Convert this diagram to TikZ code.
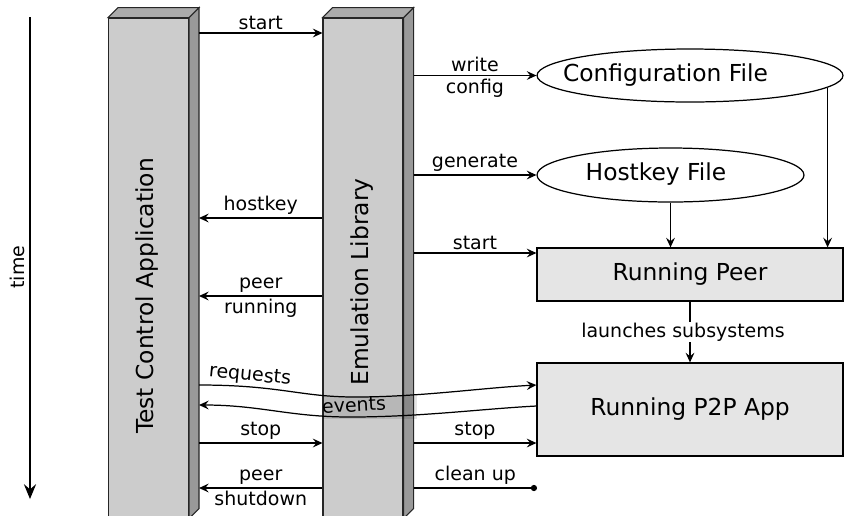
\documentclass[tikz,border=0pt]{standalone}
\usepackage{fontspec}
\setmainfont{DejaVu Sans}
\usetikzlibrary{arrows.meta,shapes.geometric}

\tikzset{
  colface/.style={draw=black!85, fill=black!20, line width=0.6pt, inner sep=0pt,
                  minimum width=1.6cm, minimum height=10cm},
  sideface/.style={draw=black!85, fill=black!40, line width=0.6pt},
  topface/.style={draw=black!85, fill=black!33, line width=0.6pt},
  msg/.style={-{Stealth[length=5.5pt,width=5pt,inset=2pt]}, line width=0.7pt},
  lbl/.style={font=\fontsize{10.8}{12}\selectfont, inner sep=1.5pt},
  big/.style={font=\fontsize{13.3}{15}\selectfont},
  file/.style={ellipse, draw, line width=0.7pt, inner sep=0pt},
  proc/.style={rectangle, draw, fill=black!10, line width=0.7pt, inner sep=0pt, big},
}

\begin{document}
\begin{tikzpicture}[x=0.02cm, y=-0.02cm]
\useasboundingbox (0,0) rectangle (844,515);

% time axis
\coordinate (t0) at (30,17);
\coordinate (t1) at (30,499);
\draw[-{Stealth[length=8.5pt,width=7pt,inset=3pt]}, line width=0.7pt] (t0) -- (t1);
\node[lbl, rotate=90] (time) at (17,267) {time};

% test control application
\node[colface] (tca) at (148.5,268) {};
\draw[sideface] (tca.north east) -- ++(10,-10) -- ([shift={(10,-10)}]tca.south east) -- (tca.south east) -- cycle;
\draw[topface] (tca.north west) -- ++(10,-10) -- ([shift={(10,-10)}]tca.north east) -- (tca.north east) -- cycle;
\coordinate (tcaside) at ([shift={(10,0)}]tca.east);
\node[big, rotate=90] (tcalabel) at (147,296) {Test Control Application};

% emulation library
\node[colface] (emu) at (363,268) {};
\draw[sideface] (emu.north east) -- ++(10,-10) -- ([shift={(10,-10)}]emu.south east) -- (emu.south east) -- cycle;
\draw[topface] (emu.north west) -- ++(10,-10) -- ([shift={(10,-10)}]emu.north east) -- (emu.north east) -- cycle;
\coordinate (emuside) at ([shift={(10,0)}]emu.east);
\node[big, rotate=90] (emulabel) at (362,282) {Emulation Library};

% files and processes
\node[file, minimum width=6.12cm, minimum height=1.06cm] (cfg) at (690,75.5) {};
\node[big] (cfglabel) at (665.5,75) {Configuration File};
\node[file, minimum width=5.34cm, minimum height=1.08cm] (hk) at (670.5,175) {};
\node[big] (hklabel) at (656,174) {Hostkey File};
\node[proc, minimum width=6.12cm, minimum height=1.06cm] (peer) at (690,274.5) {Running Peer};
\node[proc, minimum width=6.12cm, minimum height=1.86cm] (app) at (690,409.5) {Running P2P App};

\draw[msg] (hk.south) -- (hk.south |- peer.north);
\draw[msg] (cfg.-5.3) -- (cfg.-5.3 |- peer.north);
\draw[msg] (peer.south) -- node[lbl, fill=white, inner sep=0.5pt, xshift=-0.14cm] {launches subsystems} (app.north);

% messages
\draw[msg] (tcaside |- 0,33) -- node[lbl, above] {start} (emu.west |- 0,33);
\draw[msg] (emuside |- cfg.west) -- node[lbl, above] {write} node[lbl, below] {config} (cfg.west);
\draw[msg] (emuside |- hk.west) -- node[lbl, above] {generate} (hk.west);
\draw[msg] (emu.west |- 0,218) -- node[lbl, above] {hostkey} (tcaside |- 0,218);
\draw[msg] (emuside |- 0,253) -- node[lbl, above] {start} (peer.west |- 0,253);
\draw[msg] (emu.west |- 0,296) -- node[lbl, above] {peer} node[lbl, below] {running} (tcaside |- 0,296);

\fill[black, opacity=0.1] (323,396) rectangle (417,419);
\draw[msg] (tcaside |- 0,385) .. controls (280,385) and (300,397) .. (355,397)
           .. controls (420,397) and (480,388) .. (app.west |- 0,385);
\node[lbl, rotate=-5.5] (req) at (250,376) {requests};
\draw[msg] (app.west |- 0,406) .. controls (480,409) and (420,417) .. (350,417)
           .. controls (290,417) and (260,405) .. (tcaside |- 0,405);
\node[lbl, rotate=3] (ev) at (354,405) {events};

\draw[msg] (tcaside |- 0,443) -- node[lbl, above] {stop} (emu.west |- 0,443);
\draw[msg] (emuside |- 0,443) -- node[lbl, above] {stop} (app.west |- 0,443);
\draw[msg] (emu.west |- 0,488) -- node[lbl, above] {peer} node[lbl, below] {shutdown} (tcaside |- 0,488);
\coordinate (cleanend) at (537,488);
\draw[-{Circle[length=3.5pt]}, line width=0.7pt] (emuside |- cleanend) -- node[lbl, above] {clean up} (cleanend);
\end{tikzpicture}
\end{document}
